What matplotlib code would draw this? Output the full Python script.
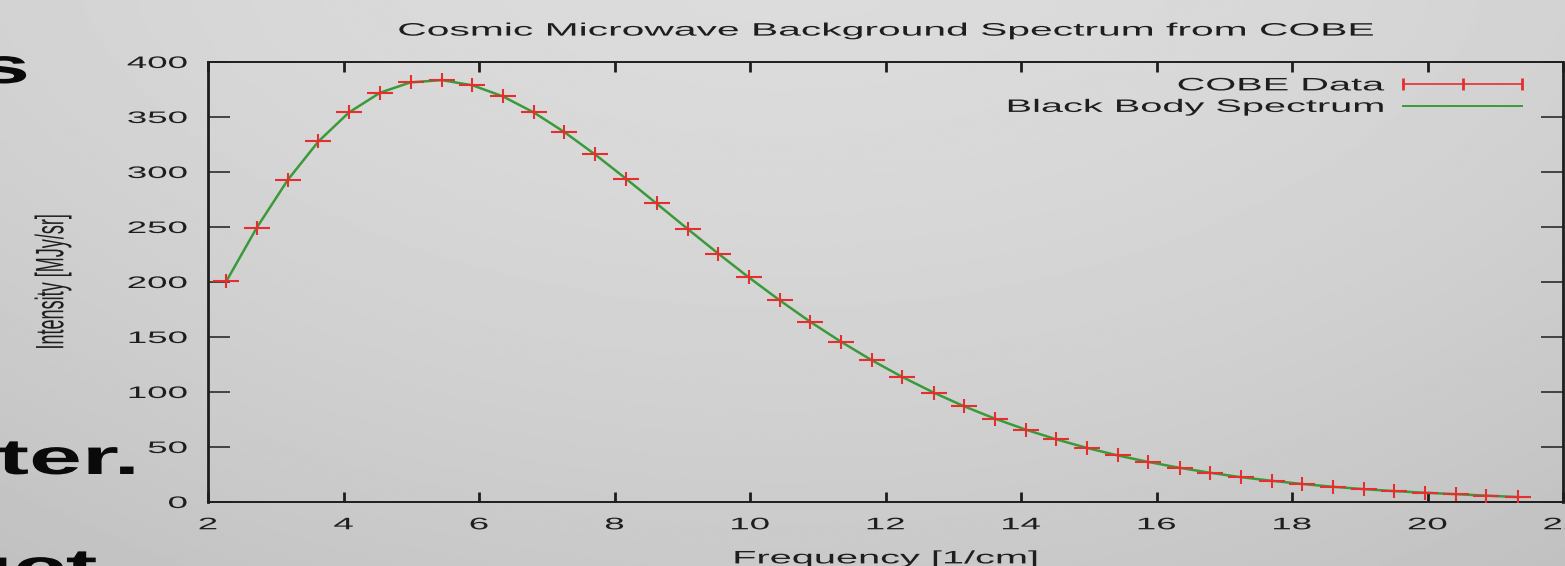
import numpy as np
import matplotlib
matplotlib.use("Agg")
import matplotlib.pyplot as plt
from matplotlib.path import Path
from matplotlib.lines import Line2D
from matplotlib.patheffects import AbstractPathEffect
from matplotlib.transforms import Affine2D


# COBE FIRAS monopole spectrum
frequency = [2.27, 2.72, 3.18, 3.63, 4.08, 4.54, 4.99, 5.45, 5.90, 6.35,
             6.81, 7.26, 7.71, 8.17, 8.62, 9.08, 9.53, 9.98, 10.44, 10.89,
             11.34, 11.80, 12.25, 12.71, 13.16, 13.61, 14.07, 14.52, 14.97, 15.43,
             15.88, 16.34, 16.79, 17.24, 17.70, 18.15, 18.61, 19.06, 19.51, 19.97,
             20.42, 20.87, 21.33]
intensity = [200.7, 249.5, 293.0, 327.8, 354.1, 372.1, 381.5, 383.5, 378.9, 368.8,
             354.1, 336.3, 316.1, 293.9, 271.4, 248.2, 225.9, 204.3, 183.3, 163.8,
             145.8, 128.8, 113.6, 99.5, 87.0, 75.9, 65.8, 57.0, 49.2, 42.3,
             36.4, 31.1, 26.6, 22.6, 19.3, 16.4, 13.8, 11.7, 9.9, 8.4,
             7.1, 5.8, 4.5]

# black body curve sampled at the same frequencies
bb_frequency = frequency
bb_intensity = [200.6, 249.4, 293.0, 327.8, 354.1, 372.1, 381.5, 383.5, 378.9, 368.8,
                354.1, 336.3, 316.1, 293.9, 271.4, 248.2, 225.9, 204.3, 183.3, 163.8,
                145.8, 128.8, 113.6, 99.5, 87.0, 75.9, 65.8, 57.0, 49.2, 42.3,
                36.4, 31.1, 26.6, 22.6, 19.3, 16.4, 13.8, 11.7, 9.9, 8.4,
                7.1, 5.8, 4.5]

x_ticks = [2, 4, 6, 8, 10, 12, 14, 16, 18, 20, 22]
y_ticks = [0, 50, 100, 150, 200, 250, 300, 350, 400]

RED = "#e62e2e"
GREEN = "#3a9a3a"
INK = "#1e1e1e"
WIDE = 2.2


class Widen(AbstractPathEffect):
    """Stretch glyphs horizontally about the left/centre/right of the text."""

    def __init__(self, factor=WIDE, anchor="center"):
        super().__init__()
        self.factor = factor
        self.anchor = anchor

    def draw_path(self, renderer, gc, tpath, affine, rgbFace=None):
        box = tpath.get_extents(affine)
        x0 = {"left": box.x0, "center": 0.5 * (box.x0 + box.x1), "right": box.x1}[self.anchor]
        stretch = Affine2D().translate(-x0, 0).scale(self.factor, 1).translate(x0, 0)
        renderer.draw_path(gc, tpath, affine + stretch, rgbFace)


plt.rcParams["font.family"] = ["Liberation Sans", "DejaVu Sans"]
fig = plt.figure(figsize=(15.65, 5.66), dpi=100)

# slide background
bg = fig.add_axes([0, 0, 1, 1], zorder=-5)
gx, gy = np.meshgrid(np.linspace(-1, 1, 400), np.linspace(0, 1, 200))
shade = 0.86 - 0.07 * gy ** 1.5 - 0.035 * gx ** 2
bg.imshow(shade, extent=[0, 1, 0, 1], aspect="auto", cmap="gray", vmin=0, vmax=1)
bg.axis("off")

# leftover slide text
for s, x, y in [("s", 28, 83), ("ter.", 137, 474), ("uct", 97, 584)]:
    fig.text(x / 1565, 1 - y / 566, s, fontsize=36, fontweight="bold", color="#0a0a0a",
             ha="right", va="baseline", path_effects=[Widen(1.9, "right")])

ax = fig.add_axes([208 / 1565, 64 / 566, 1355 / 1565, 440 / 566])
ax.set_facecolor("none")

ax.plot(bb_frequency, bb_intensity, color=GREEN, lw=1.8, zorder=2)

plus = Path([(-1, 0), (1, 0), (0, -0.5), (0, 0.5)],
            [Path.MOVETO, Path.LINETO, Path.MOVETO, Path.LINETO])
ax.plot(frequency, intensity, ls="none", marker=plus, markersize=19, mew=1.5,
        mec=RED, mfc="none", zorder=3)

ax.set_xlim(2, 22)
ax.set_ylim(0, 400)
ax.set_xticks(x_ticks)
ax.set_yticks(y_ticks)
ax.tick_params(axis="x", direction="in", length=7, width=2.0, top=True, pad=11,
               labelsize=12, colors=INK)
ax.tick_params(axis="y", direction="in", length=16, width=1.1, right=True, pad=15,
               labelsize=12, colors=INK)
for lab in ax.get_xticklabels():
    lab.set_path_effects([Widen(WIDE, "center")])
for lab in ax.get_yticklabels():
    lab.set_path_effects([Widen(WIDE, "right")])

for side in ["left", "right"]:
    ax.spines[side].set_linewidth(2.0)
for side in ["top", "bottom"]:
    ax.spines[side].set_linewidth(1.4)
for sp in ax.spines.values():
    sp.set_color(INK)

ax.set_title("Cosmic Microwave Background Spectrum from COBE", fontsize=13, color=INK,
             pad=19, path_effects=[Widen(2.26, "center")])
ax.set_xlabel("Frequency [1/cm]", fontsize=13, color=INK,
              path_effects=[Widen(WIDE, "center")])
ax.xaxis.set_label_coords(0.5, -0.11)
ax.set_ylabel("Intensity [MJy/sr]", fontsize=13, color=INK,
              path_effects=[Widen(WIDE, "center")])
ax.yaxis.set_label_coords(-0.108, 0.5)

handles = [
    Line2D([], [], color=RED, lw=1.2, marker="|", markersize=9, mew=2.0),
    Line2D([], [], color=GREEN, lw=1.4),
]
leg = ax.legend(handles, ["COBE Data", "Black Body Spectrum"], loc="upper right",
                bbox_to_anchor=(0.974, 0.965), frameon=False, fontsize=13,
                markerfirst=False, numpoints=3, handlelength=7.2, handletextpad=0.78,
                labelspacing=0.25, borderpad=0, borderaxespad=0)
for t in leg.get_texts():
    t.set_color(INK)
    t.set_path_effects([Widen(WIDE, "right")])

fig.savefig("out.png", dpi=100)
